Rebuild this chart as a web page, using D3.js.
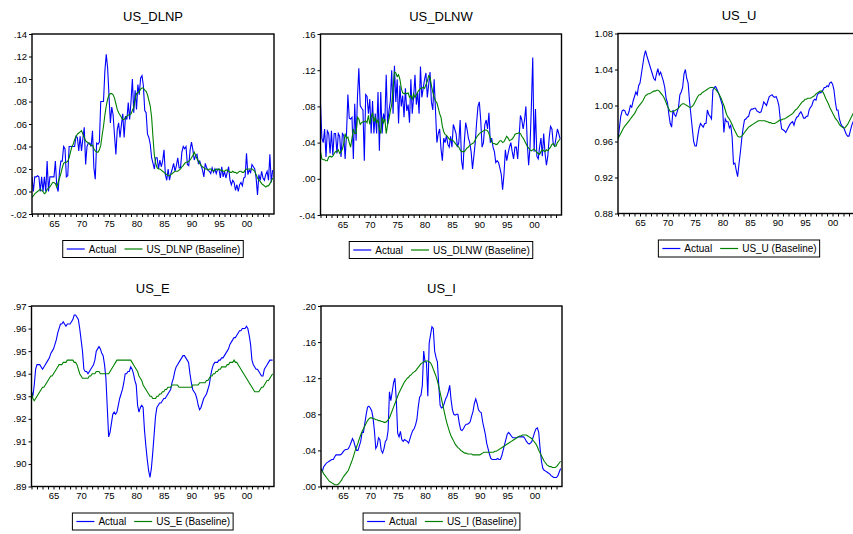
<!DOCTYPE html>
<html>
<head>
<meta charset="utf-8">
<script src="https://cdn.jsdelivr.net/npm/d3@7"></script>
<style>
  body { margin: 0; background: #fff; }
  svg { display: block; font-family: "Liberation Sans", Arial, sans-serif; }
  .axis text { font-size: 9.5px; fill: #000; }
  .axis line { stroke: #000; }
  .axis path { display: none; }
</style>
</head>
<body>
<svg id="chart" width="853" height="534"></svg>
<script>
"use strict";

// quarterly observations, 1961Q1 .. 2004Q4
var startYear = 1961;
var yearTicks = d3.range(1961, 2005);

var dlnpActual = [
  .013, .000, .013, .013,  .014, .013, .000, .013,  .000, .013, .000, .027,  .000, .013, .013, .013,
  .013, .027, .005, .000,  .018, .027, .027, .040,  .038, .013, .014, .040,  .040, .040, .040, .040,
  .049, .048, .036, .049,  .036, .047, .057, .024,  .040, .043, .043, .040,  .054, .021, .011, .043,
  .042, .044, .080, .080,  .080, .107, .122, .110,  .085, .061, .075, .068,  .050, .033, .055, .061,
  .048, .059, .069, .048,  .067, .064, .079, .064,  .080, .100, .070, .090,  .073, .095, .086, .101,
  .103, .094, .072, .070,  .051, .048, .042, .030,  .025, .020, .030, .030,  .020, .028, .022, .027,
  .037, .015, .010, .020,  .010, .016, .020, .025,  .018, .023, .030, .021,  .021, .035, .040, .038,
  .040, .024, .023, .037,  .044, .037, .028, .032,  .033, .025, .027, .023,  .019, .013, .025, .021,
  .019, .018, .016, .021,  .017, .020, .016, .020,  .020, .012, .022, .013,  .018, .012, .017, .022,
  .010, .006, .010, .008,  .001, .006, .000, .006,  .008, .005, .012, .013,  .034, .015, .019, .017,
  .024, .022, .020, .012, -.003, .015, .010, .018,  .012, .010, .015, .018,  .010, .033, .008, .019
];
var dlnpBase = [
 -.005,-.004,-.002,-.001,  .000, .001, .002, .001,  .000,-.002,-.001, .002,  .003, .004, .006, .008,
  .008, .007, .004, .008,  .012, .016, .021, .025,  .026, .026, .027, .030,  .035, .040, .042, .046,
  .049, .051, .052, .053,  .054, .051, .048, .045,  .044, .043, .042, .041,  .041, .038, .036, .035,
  .035, .037, .041, .050,  .058, .068, .076, .082,  .086, .087, .087, .086,  .083, .078, .073, .070,
  .068, .066, .064, .064,  .066, .067, .068, .068,  .069, .072, .075, .082,  .087, .088, .089, .091,
  .092, .092, .090, .089,  .086, .081, .076, .066,  .048, .032, .025, .021,  .020, .020, .019, .018,
  .017, .016, .015, .014,  .014, .015, .016, .017,  .018, .018, .018, .019,  .020, .022, .023, .025,
  .026, .026, .027, .028,  .030, .032, .035, .032,  .029, .027, .025, .023,  .022, .021, .020, .020,
  .019, .020, .020, .019,  .018, .019, .020, .019,  .020, .019, .019, .018,  .018, .019, .019, .018,
  .017, .017, .018, .017,  .017, .016, .017, .018,  .018, .017, .017, .019,  .020, .020, .020, .020,
  .020, .019, .018, .015,  .012, .010, .009, .007,  .006, .005, .004, .005,  .005, .007, .009, .012
];

var dlnwActual = [
  .083, .045, .040, .055,  .024, .053, .050, .028,  .053, .026, .050, .050,  .028, .050, .047, .024,
  .050, .048, .022, .050,  .093, .067, .066, .068,  .022, .083, .042, .090,  .122, .081, .078, .076,
  .020, .093, .091, .072,  .088, .050, .086, .050,  .072, .050, .096, .031,  .096, .050, .072, .064,
  .115, .060, .075, .086,  .120, .072, .125, .085,  .110, .061, .103, .080,  .092, .068, .100, .075,
  .082, .062, .110, .072,  .090, .115, .082, .095,  .072, .124, .090, .100,  .110, .117, .090, .104,
  .118, .085, .076, .110,  .075, .040, .050, .055,  .033, .020, .045, .040,  .048, .038, .035, .047,
  .035, .060, .055, .050,  .035, .040, .065, .020,  .010, .040, .062, .055,  .045, .040, .030, .011,
  .025, .040, .062, .080,  .085, .065, .035, .040,  .060, .065, .055, .073,  .040, .045, .035, .030,
  .018, .020, .018, .012,  .005,-.012, .005, .032,  .020, .028, .035, .040,  .030, .022, .035, .035,
  .022, .045, .070, .065,  .055, .065, .080, .040,  .015, .035, .080, .134,  .030, .077, .025, .022,
  .035, .045, .025, .050,  .028, .015, .025, .045,  .058, .055, .038, .036,  .045, .055, .050, .044
];
var dlnwBase = [
  .030, .022, .021, .021,  .020, .020, .024, .025,  .024, .025, .028, .030,  .030, .032, .028, .030,
  .033, .039, .050, .045,  .046, .040, .035, .045,  .055, .050, .050, .068,  .066, .060, .062, .063,
  .063, .064, .062, .070,  .060, .068, .073, .063,  .068, .062, .065, .055,  .050, .068, .062, .066,
  .050, .060, .066, .075,  .082, .100, .118, .117,  .113, .115, .110, .100,  .095, .094, .095, .094,
  .095, .090, .092, .088,  .094, .090, .093, .096,  .098, .100, .100, .101,  .100, .104, .108, .114,
  .112, .103, .096, .090,  .086, .084, .078, .072,  .068, .058, .052, .049,  .048, .046, .044, .043,
  .043, .042, .040, .038,  .036, .035, .032, .030,  .030, .030, .032, .034,  .035, .037, .038, .039,
  .040, .043, .046, .048,  .050, .051, .052, .053,  .054, .054, .053, .050,  .045, .041, .039, .039,
  .038, .038, .040, .042,  .042, .040, .041, .044,  .047, .045, .042, .043,  .044, .046, .049, .050,
  .050, .051, .050, .047,  .045, .042, .039, .036,  .034, .032, .031, .032,  .033, .031, .029, .028,
  .027, .030, .032, .031,  .030, .032, .031, .033,  .035, .038, .039, .036,  .036, .040, .042, .044
];

var uActual = [
  .962, .975, .988, .994,  .995, .994, .990, .989,  .993,1.000, .998,1.005, 1.010,1.015,1.012,1.022,
 1.025,1.035,1.045,1.055, 1.061,1.055,1.050,1.045, 1.040,1.035,1.030,1.028, 1.035,1.041,1.034,1.037,
 1.032,1.027,1.020,1.008, 1.003, .990, .980, .976,  .995, .990, .988, .993,  .998,1.012,1.015,1.020,
 1.035,1.040,1.030,1.025, 1.005, .990, .975, .960,  .955, .955, .966, .975,  .980, .978, .976, .980,
  .980, .995, .990, .988,  .985,1.017,1.020,1.021, 1.018,1.014,1.010,1.005, 1.000, .970, .985, .982,
  .982, .975, .978, .965,  .935, .936, .928, .921,  .935, .948, .963, .975,  .984, .985, .987, .988,
  .994, .996, .996, .997,  .997, .994, .993, .992,  .993, .998,1.004,1.002, 1.000,1.005,1.010,1.011,
 1.012,1.010,1.009,1.010, 1.006,1.000, .985, .974,  .973, .972, .970, .973,  .976, .979, .981, .982,
  .978, .984, .987, .988,  .991, .993, .990, .986,  .986, .988, .988, .995,  .998,1.000,1.005,1.007,
 1.006,1.012,1.014,1.014, 1.015,1.017,1.020,1.020, 1.022,1.021,1.025,1.026, 1.024,1.018,1.005, .995,
  .995, .985, .980, .977,  .976, .972, .968, .966,  .966, .972, .978, .982,  .985, .988, .990, .992
];
var uBase = [
  .963, .966, .969, .972,  .975, .977, .979, .981,  .983, .985, .987, .989,  .991, .994, .997, .999,
 1.001,1.003,1.005,1.008, 1.011,1.012,1.013,1.013, 1.014,1.015,1.016,1.016, 1.017,1.017,1.016,1.014,
 1.012,1.010,1.007,1.003,  .999, .996, .993, .993,  .993, .994, .995, .996,  .997, .999,1.001,1.002,
 1.002,1.001,1.000, .999,  .998, .998, .999,1.001, 1.004,1.007,1.010,1.012, 1.012,1.014,1.015,1.016,
 1.017,1.018,1.019,1.020, 1.020,1.020,1.019,1.018, 1.016,1.014,1.011,1.008, 1.004,1.000, .995, .990,
  .987, .985, .982, .979,  .975, .972, .969, .966,  .965, .965, .966, .968,  .970, .972, .974, .976,
  .977, .978, .979, .980,  .981, .982, .983, .983,  .983, .983, .983, .983,  .982, .982, .981, .981,
  .980, .980, .980, .981,  .982, .983, .984, .984,  .985, .985, .986, .987,  .988, .989, .990, .991,
  .993, .995, .996, .998, 1.000,1.002,1.004,1.005, 1.007,1.007,1.008,1.008, 1.008,1.009,1.010,1.011,
 1.013,1.014,1.015,1.016, 1.016,1.015,1.012,1.008, 1.005,1.002, .998, .995,  .992, .989, .986, .984,
  .982, .979, .977, .976,  .975, .975, .977, .979,  .982, .985, .988, .991,  .994, .997,1.000,1.003
];

var eActual = [
  .932, .930, .935, .942,  .944, .944, .944, .943,  .942, .943, .944, .945,  .946, .947, .949, .950,
  .951, .953, .955, .958,  .960, .962, .962, .963,  .962, .961, .962, .962,  .962, .963, .964, .966,
  .966, .965, .964, .960,  .955, .950, .942, .941,  .941, .940, .941, .942,  .943, .944, .946, .950,
  .951, .952, .951, .949,  .948, .944, .938, .925,  .912, .914, .918, .922,  .923, .922, .923, .926,
  .929, .931, .933, .936,  .940, .940, .941, .941,  .943, .942, .940, .937,  .935, .926, .923, .925,
  .926, .925, .915, .908,  .902, .897, .894, .898,  .905, .913, .921, .925,  .926, .927, .927, .928,
  .929, .929, .930, .931,  .932, .933, .936, .938,  .941, .943, .944, .945,  .946, .947, .948, .948,
  .947, .946, .945, .940,  .936, .933, .932, .931,  .929, .926, .924, .925,  .927, .929, .930, .931,
  .933, .935, .939, .942,  .944, .945, .945, .945,  .946, .946, .947, .947,  .948, .949, .950, .951,
  .953, .954, .955, .956,  .956, .957, .958, .959,  .959, .960, .960, .960,  .961, .960, .957, .953,
  .946, .944, .943, .942,  .942, .941, .940, .939,  .939, .942, .943, .944,  .945, .946, .946, .946
];
var eBase = [
  .932, .929, .928, .929,  .930, .931, .932, .933,  .934, .934, .935, .936,  .937, .938, .939, .939,
  .940, .941, .942, .943,  .944, .944, .944, .945,  .945, .945, .946, .946,  .946, .946, .946, .945,
  .945, .944, .942, .940,  .939, .938, .938, .938,  .938, .938, .939, .939,  .940, .940, .940, .941,
  .941, .941, .940, .940,  .940, .940, .940, .940,  .940, .941, .942, .943,  .944, .945, .946, .946,
  .946, .946, .946, .946,  .946, .946, .946, .946,  .946, .945, .944, .943,  .942, .941, .939, .938,
  .937, .935, .934, .933,  .932, .931, .930, .930,  .929, .929, .929, .930,  .930, .931, .931, .932,
  .932, .933, .933, .934,  .934, .934, .935, .935,  .935, .935, .935, .934,  .934, .934, .934, .934,
  .934, .934, .934, .934,  .934, .935, .935, .935,  .935, .935, .936, .936,  .936, .936, .936, .937,
  .937, .938, .939, .939,  .940, .940, .941, .941,  .942, .942, .943, .943,  .943, .943, .944, .944,
  .945, .945, .945, .946,  .945, .945, .944, .943,  .942, .941, .940, .939,  .938, .937, .936, .935,
  .934, .933, .932, .932,  .932, .932, .933, .934,  .934, .935, .936, .937,  .937, .938, .939, .940
];

var iActual = [
  .020, .017, .022, .024,  .026, .027, .028, .029,  .030, .030, .033, .035,  .035, .035, .035, .036,
  .038, .040, .041, .041,  .042, .045, .049, .053,  .050, .044, .040, .040,  .045, .050, .060, .060,
  .070, .080, .088, .089,  .087, .084, .076, .062,  .042, .045, .054, .052,  .040, .037, .042, .050,
  .052, .062, .105, .095,  .105, .115, .120, .096,  .059, .055, .061, .052,  .050, .052, .051, .050,
  .048, .053, .058, .062,  .064, .068, .074, .088,  .099, .101, .112, .150,  .138, .138, .100, .159,
  .168, .177, .175, .150,  .143, .138, .112, .090,  .087, .088, .092, .097,  .100, .105, .112, .096,
  .085, .080, .079, .080,  .080, .070, .063, .062,  .064, .067, .069, .069,  .070, .072, .078, .083,
  .092, .097, .092, .085,  .083, .082, .072, .065,  .058, .048, .042, .036,  .031, .030, .030, .030,
  .030, .031, .030, .030,  .034, .040, .046, .052,  .058, .060, .058, .056,  .054, .054, .054, .054,
  .055, .055, .055, .055,  .055, .053, .050, .048,  .047, .048, .050, .055,  .060, .064, .065, .060,
  .042, .028, .020, .018,  .017, .016, .015, .014,  .012, .011, .010, .010,  .010, .012, .016, .020
];
var iBase = [
  .020, .017, .014, .012,  .010, .008, .006, .005,  .004, .003, .002, .002,  .002, .003, .005, .007,
  .010, .012, .014, .016,  .018, .022, .026, .030,  .035, .040, .044, .048,  .053, .057, .061, .064,
  .067, .070, .073, .075,  .076, .076, .075, .075,  .074, .074, .073, .073,  .072, .072, .071, .071,
  .072, .074, .076, .080,  .084, .088, .092, .096,  .100, .104, .107, .110,  .113, .116, .118, .120,
  .121, .123, .124, .126,  .127, .128, .130, .132,  .134, .136, .137, .138,  .139, .139, .139, .138,
  .137, .134, .130, .126,  .122, .117, .111, .104,  .097, .090, .083, .076,  .070, .065, .060, .056,
  .053, .050, .047, .045,  .043, .042, .040, .039,  .038, .037, .037, .036,  .036, .036, .036, .035,
  .035, .035, .035, .035,  .035, .036, .037, .038,  .038, .038, .038, .038,  .038, .038, .038, .039,
  .039, .040, .041, .042,  .043, .044, .045, .046,  .047, .048, .049, .050,  .051, .052, .053, .054,
  .055, .056, .056, .057,  .057, .057, .057, .056,  .055, .054, .053, .051,  .049, .047, .044, .040,
  .037, .034, .031, .028,  .026, .024, .023, .022,  .022, .021, .021, .021,  .022, .024, .026, .028
];

var dlnpTicks = [-.02, 0, .02, .04, .06, .08, .10, .12, .14];
var dlnwTicks = [-.04, 0, .04, .08, .12, .16];
var uTicks = [0.88, 0.92, 0.96, 1.00, 1.04, 1.08];
var eTicks = [.89, .90, .91, .92, .93, .94, .95, .96, .97];
var iTicks = [0, .04, .08, .12, .16, .20];

// EViews style labels: ".02", "-.02"
var noLead = function(d) {
  return (d < 0 ? "-" : "") + Math.abs(d).toFixed(2).replace(/^0\./, ".");
};
var twoDec = function(d) { return d.toFixed(2); };

var panels = [
  { name: "US_DLNP", actual: dlnpActual, base: dlnpBase, ticks: dlnpTicks, fmt: noLead,
    left: 32, top: 34, width: 242, height: 180 },
  { name: "US_DLNW", actual: dlnwActual, base: dlnwBase, ticks: dlnwTicks, fmt: noLead,
    left: 320.5, top: 34, width: 241, height: 181 },
  { name: "US_U", actual: uActual, base: uBase, ticks: uTicks, fmt: twoDec,
    left: 618, top: 33.5, width: 242, height: 180 },
  { name: "US_E", actual: eActual, base: eBase, ticks: eTicks, fmt: noLead,
    left: 31.5, top: 306, width: 242.5, height: 180.5 },
  { name: "US_I", actual: iActual, base: iBase, ticks: iTicks, fmt: noLead,
    left: 321, top: 306, width: 241, height: 180.5 }
];

var svg = d3.select("#chart");

panels.forEach(function(p, k) {
  var g = svg.append("g")
      .attr("transform", "translate(" + p.left + "," + p.top + ")");

  var x = d3.scaleLinear().domain([startYear, startYear + 44]).range([0, p.width]);
  var y = d3.scaleLinear()
      .domain([p.ticks[0], p.ticks[p.ticks.length - 1]])
      .range([p.height, 0]);

  var t = function(i) { return startYear + i / 4; };

  // title
  g.append("text")
      .attr("x", p.width / 2)
      .attr("y", -13.5)
      .attr("text-anchor", "middle")
      .style("font-size", "13px")
      .text(p.name);

  g.append("g")
      .attr("class", "axis")
      .call(d3.axisLeft(y).tickValues(p.ticks).tickSize(3).tickPadding(2).tickFormat(p.fmt));

  g.append("g")
      .attr("class", "axis")
      .attr("transform", "translate(0," + p.height + ")")
      .call(d3.axisBottom(x).tickValues(yearTicks).tickSize(3).tickPadding(3)
        .tickFormat(function(d) { return d % 5 === 0 ? String(d).slice(2) : ""; }));

  g.append("clipPath")
      .attr("id", "clip" + k)
    .append("rect")
      .attr("width", p.width)
      .attr("height", p.height);

  var line = d3.line()
      .x(function(d, i) { return x(t(i)); })
      .y(function(d) { return y(d); });

  var plot = g.append("g").attr("clip-path", "url(#clip" + k + ")");

  plot.append("path")
      .datum(p.actual)
      .attr("fill", "none")
      .attr("stroke", "#0000ff")
      .attr("stroke-width", 1.1)
      .attr("d", line);

  plot.append("path")
      .datum(p.base)
      .attr("fill", "none")
      .attr("stroke", "#008000")
      .attr("stroke-width", 1.1)
      .attr("d", line);

  g.append("rect")
      .attr("width", p.width)
      .attr("height", p.height)
      .attr("fill", "none")
      .attr("stroke", "#000")
      .attr("stroke-width", 1.4);

  // legend
  var lg = g.append("g");
  var box = lg.append("rect")
      .attr("fill", "#fff")
      .attr("stroke", "#000")
      .attr("stroke-width", 1);
  var items = [
    { label: "Actual", color: "#0000ff" },
    { label: p.name + " (Baseline)", color: "#008000" }
  ];
  var cx = 4;
  items.forEach(function(it, j) {
    lg.append("line")
        .attr("x1", cx).attr("x2", cx + 18)
        .attr("y1", 0).attr("y2", 0)
        .attr("stroke", it.color)
        .attr("stroke-width", 1.2);
    var txt = lg.append("text")
        .attr("x", cx + 22)
        .attr("y", 3.5)
        .style("font-size", "10px")
        .text(it.label);
    cx += 22 + txt.node().getComputedTextLength() + (j === 0 ? 8 : 3);
  });
  box.attr("x", 0).attr("y", -8.5).attr("width", cx).attr("height", 17);
  lg.attr("transform", "translate(" + (p.width / 2 - cx / 2) + "," + (p.height + 35) + ")");
});
</script>
</body>
</html>
